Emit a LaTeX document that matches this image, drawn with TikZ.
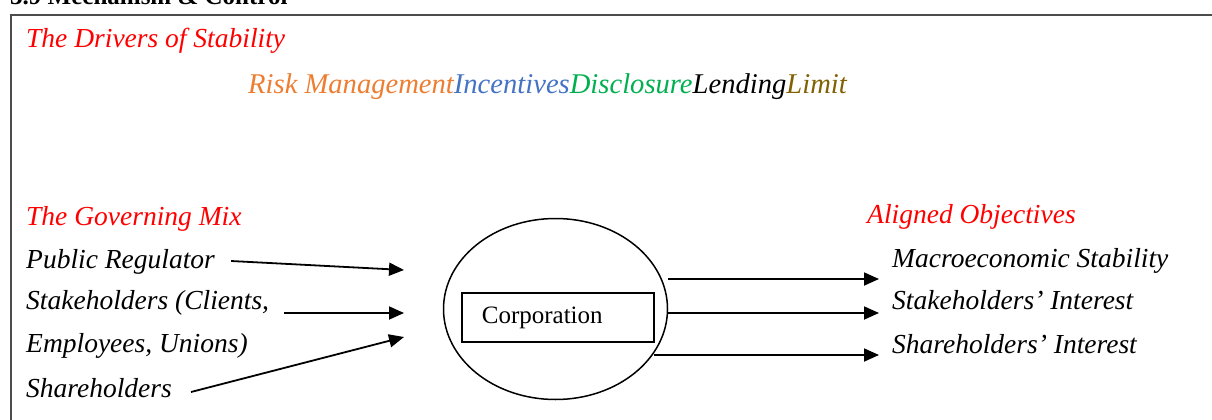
\documentclass[tikz,border=0pt]{standalone}
\usepackage{fontspec}
\setmainfont{Liberation Serif}
\usetikzlibrary{arrows.meta,shapes.geometric,calc}
\definecolor{hdred}{RGB}{255,0,0}
\definecolor{riskc}{RGB}{237,125,49}
\definecolor{incc}{RGB}{68,114,196}
\definecolor{discc}{RGB}{0,176,80}
\definecolor{limc}{RGB}{128,96,0}
\begin{document}
\begin{tikzpicture}[x=1pt,y=-1pt,
  lbl/.style={anchor=base west, inner sep=0pt, font=\fontsize{27.5}{32}\selectfont\itshape},
  head/.style={lbl, text=hdred},
  arr/.style={-{Triangle[length=15pt,width=13pt]}, line width=1.8pt}]
\useasboundingbox (0,0) rectangle (1212,420);
% header (cut off at top, as in the reference)
\node[anchor=base west, inner sep=0pt, font=\fontsize{25}{28}\selectfont\bfseries] (title) at (10,5) {3.9 Mechanism \& Control};
% frame
\draw[line width=2pt, black!70] (11,425) -- (11,15) -- (1215,15);
% headings
\node[head] (drivers) at (26,48) {The Drivers of Stability};
\node[lbl, font=\fontsize{28.6}{32}\selectfont\itshape] (tools) at (248,93) {\textcolor{riskc}{Risk Management}\textcolor{incc}{Incentives}\textcolor{discc}{Disclosure}Lending\textcolor{limc}{Limit}};
\node[head] (mix) at (26,225) {The Governing Mix};
\node[head] (aligned) at (867,223) {Aligned Objectives};
% left labels
\node[lbl] (pr) at (26,268) {Public Regulator};
\node[lbl] (st) at (26,309) {Stakeholders (Clients,};
\node[lbl] (em) at (26,352) {Employees, Unions)};
\node[lbl] (sh) at (26,397) {Shareholders};
% right labels
\node[lbl] (macro) at (892,267) {Macroeconomic Stability};
\node[lbl] (sti) at (892,309) {Stakeholders' Interest};
\node[lbl] (shi) at (892,353) {Shareholders' Interest};
% corporation
\node[ellipse, draw, line width=1.5pt, minimum width=224pt, minimum height=181pt, inner sep=0pt] (circ) at (555.5,309) {};
\node[draw, line width=1.5pt, anchor=west, minimum width=192pt, minimum height=49pt, inner xsep=0pt,
      text height=17pt, text depth=5pt, font=\fontsize{25}{30}\selectfont] (corp) at (461,317.5)
      {\hspace*{19pt}Corporation\hspace*{50pt}};
% arrow endpoints
\coordinate (in1) at (404,270);
\coordinate (in2) at (404,313);
\coordinate (in3) at (404,337);
\coordinate (o1) at (668,279);
\coordinate (o2) at (668,313);
\coordinate (o3) at (654,355);
\coordinate (t1) at (879,279);
\coordinate (t2) at (879,313);
\coordinate (t3) at (879,355);
\draw[arr] ($(pr.base east)+(16,-7)$) -- (in1);
\draw[arr] ($(st.base east)+(15,4)$) -- (in2);
\draw[arr] ($(sh.base east)+(19,-5)$) -- (in3);
\draw[arr] (o1) -- (t1);
\draw[arr] (o2) -- (t2);
\draw[arr] (o3) -- (t3);
\end{tikzpicture}
\end{document}
